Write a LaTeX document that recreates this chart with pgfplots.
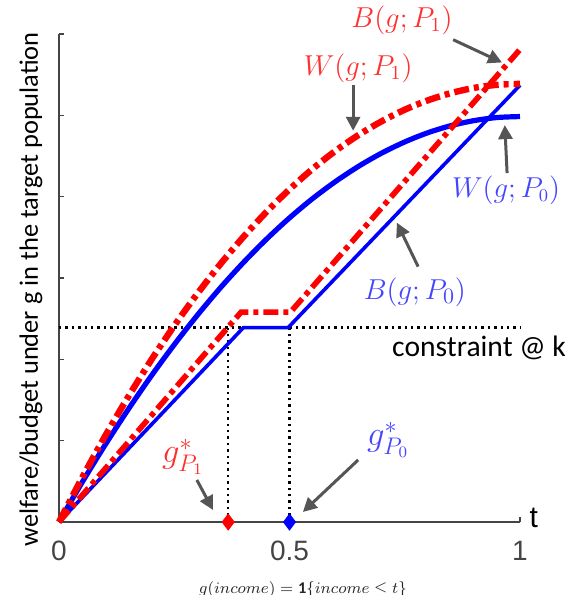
\documentclass[border=0pt]{standalone}
\usepackage{fontspec}
\setmainfont{Carlito}
\newfontfamily\helv{Liberation Sans}
\usepackage{pgfplots}
\pgfplotsset{compat=1.18}
\usetikzlibrary{arrows.meta}

\definecolor{cred}{HTML}{FF0000}
\definecolor{cblue}{HTML}{0000FF}
\definecolor{tred}{HTML}{FF3030}
\definecolor{tblue}{HTML}{4545FF}
\definecolor{axgray}{HTML}{444444}
\definecolor{argray}{HTML}{555555}

\tikzset{
  ann/.style={draw=argray, line width=1.5pt, -{Triangle[length=7pt,width=7pt]}},
  rdash/.style={dash pattern=on 7.5pt off 2.5pt on 2.5pt off 2.5pt},
}

\begin{document}
\begin{tikzpicture}
\begin{axis}[
    scale only axis,
    width=230.5pt, height=244pt,
    xmin=0, xmax=1, ymin=0, ymax=6,
    axis x line*=bottom, axis y line*=left,
    axis line style={draw=axgray, line width=0.7pt},
    tick style={draw=axgray, line width=0.7pt},
    tick align=inside, major tick length=2.5pt,
    xtick={0,0.5,1}, xticklabels={0,0.5,1},
    ytick={0,1,2,3,4,5,6}, yticklabels={},
    ticklabel style={font=\helv\fontsize{14}{14}\selectfont, text=axgray},
    /pgf/number format/assume math mode=true,
    xticklabel style={yshift=-6pt},
    clip=false,
  ]
  % constraint and optimum guides
  \addplot[black, line width=1.2pt, dotted] coordinates {(0,2.39) (1,2.39)};
  \addplot[black, line width=1.2pt, dotted] coordinates {(0.367,0) (0.367,2.39)};
  \addplot[black, line width=1.2pt, dotted] coordinates {(0.5,0) (0.5,2.39)};

  % W(g;P0)
  \addplot[cblue, line width=2.6pt, smooth] coordinates {
    (0,0) (0.05,0.486) (0.1,0.947) (0.15,1.383) (0.2,1.795) (0.25,2.181)
    (0.3,2.542) (0.35,2.879) (0.4,3.190) (0.45,3.477) (0.5,3.739)
    (0.55,3.976) (0.6,4.187) (0.65,4.374) (0.7,4.536) (0.75,4.673)
    (0.8,4.786) (0.85,4.873) (0.9,4.935) (0.95,4.973) (1,4.985)
  };
  % B(g;P0)
  \addplot[cblue, line width=1.8pt] coordinates {
    (0,0) (0.400,2.39) (0.497,2.39) (1,5.37)
  };
  % W(g;P1)
  \addplot[cred, line width=3.2pt, rdash, smooth] coordinates {
    (0,0) (0.05,0.543) (0.1,1.056) (0.15,1.538) (0.2,1.991) (0.25,2.413)
    (0.3,2.806) (0.35,3.170) (0.4,3.505) (0.45,3.812) (0.5,4.090)
    (0.55,4.341) (0.6,4.564) (0.65,4.759) (0.7,4.927) (0.75,5.069)
    (0.8,5.184) (0.85,5.273) (0.9,5.337) (0.95,5.375) (1,5.387)
  };
  % B(g;P1)
  \addplot[cred, line width=2.8pt, rdash] coordinates {
    (0,0) (0.395,2.58) (0.502,2.58) (1,5.81)
  };

  % optima
  \addplot[only marks, mark=diamond*, mark size=4pt, cred] coordinates {(0.367,0)};
  \addplot[only marks, mark=diamond*, mark size=4pt, cblue] coordinates {(0.5,0)};

  \coordinate (O) at (axis cs:0,0);

  % labels
  \node[text=tred, font=\fontsize{14}{16}\selectfont] at (axis cs:0.744,6.17) {$B(g;P_1)$};
  \node[text=tred, font=\fontsize{14}{16}\selectfont] at (axis cs:0.649,5.58) {$W(g;P_1)$};
  \node[text=tblue, font=\fontsize{13.5}{16}\selectfont] at (axis cs:0.970,4.08) {$W(g;P_0)$};
  \node[text=tblue, font=\fontsize{15}{16}\selectfont] at (axis cs:0.772,2.83) {$B(g;P_0)$};
  \node[text=tred, font=\fontsize{17}{18}\selectfont] at (axis cs:0.269,0.80) {$g^*_{P_1}$};
  \node[text=tblue, font=\fontsize{17}{18}\selectfont] at (axis cs:0.714,1.01) {$g^*_{P_0}$};
  \node[anchor=west, inner sep=0pt, font=\fontsize{14.8}{15}\selectfont] at (axis cs:0.722,2.14) {constraint @ k};
  \node[anchor=west, inner sep=0pt, font=\helv\fontsize{15}{15}\selectfont] at (axis cs:1.02,0.05) {t};
  \node[rotate=90, font=\fontsize{13.2}{14}\selectfont] at (axis cs:-0.0607,2.86) {welfare/budget under g in the target population};
  \node[text=black!85, font=\fontsize{8.2}{9}\selectfont] at (axis cs:0.529,-0.824) {$g(income)=\mathbf{1}\{income\leq t\}$};

  % pointers
  \draw[ann] (axis cs:0.855,5.93) -- (axis cs:0.961,5.65);
  \draw[ann] (axis cs:0.638,5.375) -- (axis cs:0.638,4.81);
  \draw[ann] (axis cs:0.972,4.29) -- (axis cs:0.967,4.88);
  \draw[ann] (axis cs:0.779,3.14) -- (axis cs:0.733,3.68);
  \draw[ann] (axis cs:0.299,0.517) -- (axis cs:0.334,0.148);
  \draw[ann] (axis cs:0.649,0.763) -- (axis cs:0.529,0.123);
\end{axis}
\pgfresetboundingbox
\path[use as bounding box] ([shift={(-29.5pt,-36.5pt)}]O) rectangle ([shift={(257pt,261pt)}]O);
\end{tikzpicture}
\end{document}
